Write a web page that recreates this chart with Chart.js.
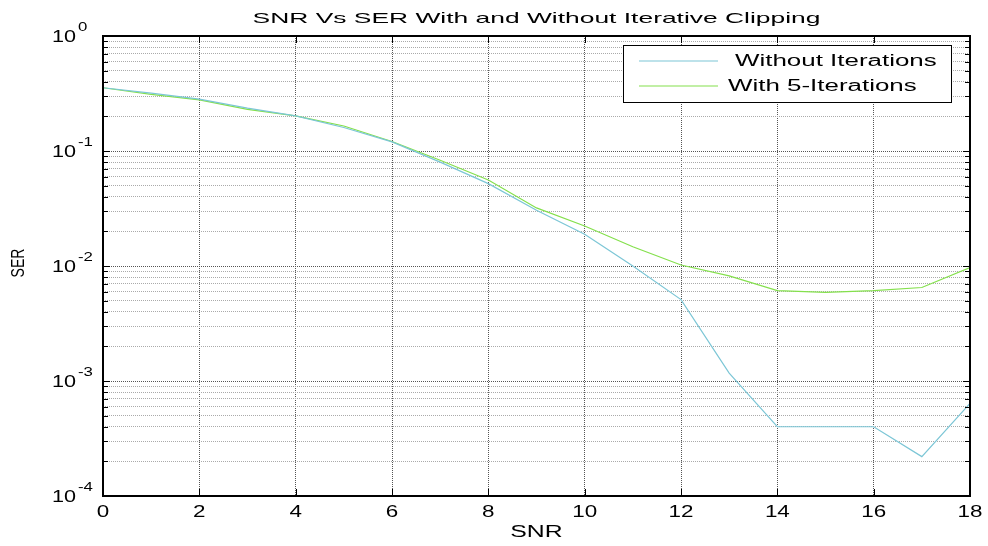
<!DOCTYPE html>
<html>
<head>
<meta charset="utf-8">
<title>SNR Vs SER</title>
<script src="https://cdn.jsdelivr.net/npm/chart.js@4.4.1/dist/chart.umd.min.js"></script>
<style>
  html, body { margin: 0; padding: 0; background: #fff; }
  #wrap { width: 988px; height: 546px; position: relative; }
</style>
</head>
<body>
<div id="wrap"><canvas id="serChart"></canvas></div>
<script>
// values
const snrValues = [0, 1, 2, 3, 4, 5, 6, 7, 8, 9, 10, 11, 12, 13, 14, 15, 16, 17, 18];
const serWithout = [0.355, 0.318, 0.283, 0.236, 0.202, 0.160, 0.120, 0.080, 0.052, 0.0305,
                    0.0189, 0.0100, 0.0051, 0.00117, 0.0004, 0.0004, 0.0004, 0.00022, 0.00064];
const serWith = [0.355, 0.311, 0.278, 0.230, 0.202, 0.165, 0.121, 0.083, 0.056, 0.032,
                 0.0223, 0.0147, 0.0102, 0.0082, 0.0061, 0.0059, 0.0061, 0.0065, 0.0097];
const seriesLabels = ['Without Iterations', 'With 5-Iterations'];
const seriesColors = ['#7cc6d6', '#84e04c'];

// axis ticks and texts
const xTicks = [0, 2, 4, 6, 8, 10, 12, 14, 16, 18];
const yDecades = [1e-4, 1e-3, 1e-2, 1e-1, 1];
const yExponents = ['-4', '-3', '-2', '-1', '0'];
const minorSteps = [2, 3, 4, 5, 6, 7, 8, 9];
const titleText = 'SNR Vs SER With and Without Iterative Clipping';
const xTitle = 'SNR';
const yTitle = 'SER';

const FONT = '"Liberation Sans", Arial, sans-serif';

function isDecade(v) {
  return yDecades.some(d => Math.abs(d - v) / d < 1e-6);
}

function buildYTicks() {
  const out = [];
  yDecades.forEach((d, i) => {
    out.push({ value: d, major: true });
    if (i < yDecades.length - 1) minorSteps.forEach(m => out.push({ value: d * m, major: false }));
  });
  return out;
}

// the source figure is stretched sideways, so text is drawn wider than normal
function wideText(ctx, text, x, y, sx, align) {
  ctx.save();
  ctx.translate(x, y);
  ctx.scale(sx, 1);
  ctx.textAlign = align;
  ctx.fillText(text, 0, 0);
  ctx.restore();
}

// frame, inward tick marks and all the axis texts (MATLAB look)
const axesDecor = {
  id: 'axesDecor',
  afterDraw(chart) {
    const { ctx, chartArea: a, scales } = chart;
    const ys = scales.y, xs = scales.x;
    ctx.save();
    ctx.strokeStyle = '#000';
    ctx.lineWidth = 1;
    ctx.beginPath();
    ys.ticks.forEach(t => {
      const py = Math.round(ys.getPixelForValue(t.value)) + 0.5;
      const len = t.major ? 7 : 5;
      ctx.moveTo(a.left, py); ctx.lineTo(a.left + len, py);
      ctx.moveTo(a.right, py); ctx.lineTo(a.right - len, py);
    });
    xTicks.forEach(v => {
      const px = Math.round(xs.getPixelForValue(v)) + 0.5;
      ctx.moveTo(px, a.bottom); ctx.lineTo(px, a.bottom - 7);
      ctx.moveTo(px, a.top); ctx.lineTo(px, a.top + 7);
    });
    ctx.stroke();

    ctx.lineWidth = 2;
    ctx.strokeRect(a.left, a.top, a.right - a.left, a.bottom - a.top);

    ctx.fillStyle = '#000';
    ctx.textBaseline = 'middle';

    // title
    ctx.font = '15px ' + FONT;
    wideText(ctx, titleText, (a.left + a.right) / 2, 18.5, 1.76, 'center');

    // y labels 10^n
    yDecades.forEach((d, i) => {
      const py = ys.getPixelForValue(d);
      ctx.font = '16px ' + FONT;
      const w = ctx.measureText('10').width * 1.35;
      wideText(ctx, '10', 52, py + 2, 1.35, 'left');
      ctx.font = '12px ' + FONT;
      wideText(ctx, yExponents[i], 52 + w + 2, py - 8.5, 1.4, 'left');
    });

    // x labels
    ctx.font = '16px ' + FONT;
    xTicks.forEach(v => {
      wideText(ctx, String(v), xs.getPixelForValue(v), 512.5, 1.4, 'center');
    });

    // axis titles
    wideText(ctx, xTitle, (a.left + a.right) / 2, 533, 1.55, 'center');
    ctx.save();
    ctx.translate(19, (a.top + a.bottom) / 2 - 3);
    ctx.rotate(-Math.PI / 2);
    ctx.scale(1, 1.3);
    ctx.font = '14px ' + FONT;
    ctx.textAlign = 'center';
    ctx.fillText(yTitle, 0, 0);
    ctx.restore();

    ctx.restore();
  }
};

// boxed legend inside the top right of the axes
const boxLegend = {
  id: 'boxLegend',
  afterDraw(chart) {
    const { ctx, chartArea: a } = chart;
    const w = 328, h = 57;
    const x0 = a.right - 19 - w, y0 = a.top + 9;
    ctx.save();
    ctx.fillStyle = '#fff';
    ctx.fillRect(x0, y0, w, h);
    ctx.strokeStyle = '#000';
    ctx.lineWidth = 1;
    ctx.strokeRect(x0 + 0.5, y0 + 0.5, w, h);
    ctx.font = '16px ' + FONT;
    ctx.textBaseline = 'middle';
    chart.data.datasets.forEach((ds, i) => {
      const ly = y0 + 16 + i * 25;
      ctx.strokeStyle = ds.borderColor;
      ctx.lineWidth = 1.2;
      ctx.beginPath();
      ctx.moveTo(x0 + 16, ly); ctx.lineTo(x0 + 95, ly);
      ctx.stroke();
      ctx.fillStyle = '#000';
      wideText(ctx, ds.label, x0 + (i === 0 ? 112 : 105), ly + 1, 1.62, 'left');
    });
    ctx.restore();
  }
};

const chart = new Chart(document.getElementById('serChart'), {
  type: 'line',
  data: {
    labels: snrValues,
    datasets: [
      { label: seriesLabels[0], data: snrValues.map((x, i) => ({ x, y: serWithout[i] })),
        borderColor: seriesColors[0], borderWidth: 1.2, pointRadius: 0, tension: 0, fill: false },
      { label: seriesLabels[1], data: snrValues.map((x, i) => ({ x, y: serWith[i] })),
        borderColor: seriesColors[1], borderWidth: 1.2, pointRadius: 0, tension: 0, fill: false }
    ]
  },
  plugins: [axesDecor, boxLegend],
  options: {
    responsive: true,
    maintainAspectRatio: false,
    animation: false,
    layout: { padding: { left: 0, right: 18, top: 36, bottom: 0 } },
    plugins: {
      legend: { display: false },
      tooltip: { enabled: false },
      title: { display: false }
    },
    scales: {
      x: {
        type: 'linear',
        min: 0, max: 18,
        afterBuildTicks: s => { s.ticks = xTicks.map(v => ({ value: v })); },
        afterFit: s => { s.height = 50; },
        ticks: { display: false },
        grid: { color: '#555', lineWidth: 1, drawTicks: false },
        border: { display: false, dash: [1, 1] }
      },
      y: {
        type: 'logarithmic',
        min: 1e-4, max: 1,
        afterBuildTicks: s => { s.ticks = buildYTicks(); },
        afterFit: s => { s.width = 103; },
        ticks: { display: false, autoSkip: false },
        grid: { color: c => (c.tick && isDecade(c.tick.value)) ? '#555' : '#aaa', lineWidth: 1, drawTicks: false },
        border: { display: false, dash: [1, 1] }
      }
    }
  }
});
</script>
</body>
</html>
